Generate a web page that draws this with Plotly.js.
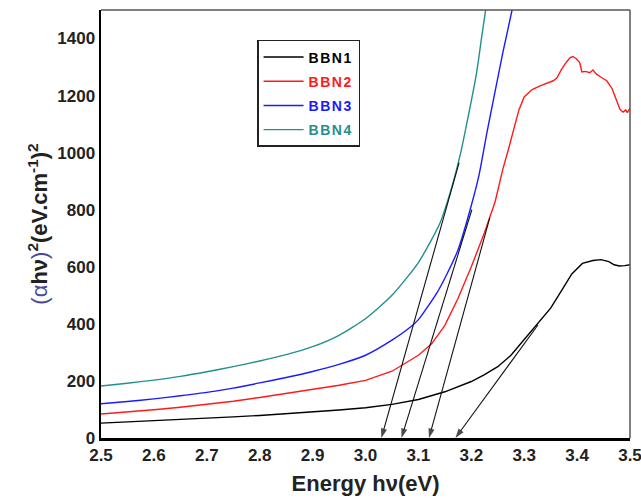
<!DOCTYPE html>
<html>
<head>
<meta charset="utf-8">
<script src="https://cdn.plot.ly/plotly-3.0.1.min.js"></script>
<style>
  html, body { margin: 0; padding: 0; background: #fff; }
  #chart { width: 641px; height: 500px; }
</style>
</head>
<body>
<div id="chart"></div>
<script>
// Tauc plot: (alpha*h*nu)^2 versus photon energy for four BBN films

const seriesNames = ['BBN1', 'BBN2', 'BBN3', 'BBN4'];
const seriesColors = ['#000000', '#ff1a1a', '#1a1aff', '#238f8f'];

// BBN1
const energyBBN1 = [2.50, 2.55, 2.60, 2.65, 2.70, 2.75, 2.80, 2.85, 2.90, 2.95, 3.00, 3.05, 3.10, 3.15, 3.20,
  3.225, 3.25, 3.275, 3.30, 3.325, 3.35, 3.37, 3.39, 3.41, 3.43, 3.445, 3.46, 3.47, 3.48, 3.49, 3.50];
const taucBBN1 = [52, 56, 60, 64, 68, 74, 79, 85, 91, 98, 106, 118, 135, 162, 198,
  222, 250, 290, 345, 400, 455, 515, 575, 612, 622, 625, 618, 607, 603, 604, 607];

// BBN2
const energyBBN2 = [2.50, 2.55, 2.60, 2.65, 2.70, 2.75, 2.80, 2.85, 2.90, 2.95, 3.00, 3.05, 3.10, 3.125, 3.15,
  3.175, 3.20, 3.225, 3.245, 3.26, 3.27, 3.28, 3.29, 3.30, 3.315, 3.33, 3.345, 3.355, 3.362, 3.37, 3.38,
  3.387, 3.392, 3.398, 3.405, 3.409, 3.416, 3.424, 3.43, 3.436, 3.443, 3.456, 3.466, 3.475, 3.481, 3.487,
  3.492, 3.495, 3.50];
const taucBBN2 = [84, 91, 99, 108, 118, 129, 142, 156, 170, 185, 202, 234, 290, 330, 395,
  490, 600, 720, 828, 945, 1010, 1080, 1150, 1195, 1221, 1234, 1245, 1252, 1262, 1290, 1318,
  1333, 1337, 1330, 1316, 1283, 1285, 1280, 1290, 1276, 1267, 1252, 1225, 1178, 1152, 1142,
  1150, 1140, 1156];

// BBN3
const energyBBN3 = [2.50, 2.55, 2.60, 2.65, 2.70, 2.75, 2.80, 2.85, 2.90, 2.95, 3.00, 3.05, 3.085, 3.10, 3.135,
  3.15, 3.175, 3.20, 3.215, 3.23, 3.245, 3.26, 3.27, 3.28];
const taucBBN3 = [120, 128, 137, 148, 160, 175, 193, 212, 233, 258, 290, 343, 389, 415, 509,
  560, 660, 815, 925, 1075, 1215, 1354, 1439, 1525];

// BBN4
const energyBBN4 = [2.50, 2.55, 2.60, 2.65, 2.70, 2.75, 2.80, 2.85, 2.90, 2.95, 3.00, 3.05, 3.10, 3.14, 3.16,
  3.18, 3.195, 3.21, 3.22, 3.235];
const taucBBN4 = [182, 192, 203, 216, 232, 250, 270, 292, 320, 360, 418, 500, 615, 750, 860,
  1000, 1135, 1280, 1410, 1600];

// Linear extrapolations of the absorption edges down to the energy axis
const tangentFromEnergy = [3.326, 3.235, 3.201, 3.177];
const tangentFromTauc = [396, 772, 800, 965];
const bandGap = [3.17, 3.12, 3.068, 3.03];

const xTicks = [2.5, 2.6, 2.7, 2.8, 2.9, 3.0, 3.1, 3.2, 3.3, 3.4, 3.5];
const yTicks = [0, 200, 400, 600, 800, 1000, 1200, 1400];

const energies = [energyBBN1, energyBBN2, energyBBN3, energyBBN4];
const taucs = [taucBBN1, taucBBN2, taucBBN3, taucBBN4];

const FONT = 'Arial, "Liberation Sans", sans-serif';

const traces = seriesNames.map((name, i) => ({
  type: 'scatter',
  mode: 'lines',
  x: energies[i],
  y: taucs[i],
  name: '<span style="color:' + seriesColors[i] + ';letter-spacing:1.5px">' + name + '</span>',
  legendgroup: name,
  line: { color: seriesColors[i], width: 1.4, shape: i === 1 || i === 0 ? 'linear' : 'spline', smoothing: 0.6 },
  hoverinfo: 'x+y'
}));

// extrapolation lines, each ending in an arrowhead on the energy axis
bandGap.forEach((eg, i) => {
  traces.push({
    type: 'scatter',
    mode: 'lines+markers',
    x: [tangentFromEnergy[i], eg],
    y: [tangentFromTauc[i], 0],
    showlegend: false,
    cliponaxis: false,
    line: { color: '#111', width: 1.1 },
    marker: { symbol: 'arrow', size: [0, 10], angleref: 'previous', color: '#000', line: { width: 0 } },
    hoverinfo: 'skip'
  });
});

const layout = {
  width: 641,
  height: 500,
  margin: { l: 101, r: 11, t: 10, b: 62 },
  paper_bgcolor: '#ffffff',
  plot_bgcolor: '#ffffff',
  font: { family: FONT, color: '#222' },
  showlegend: true,
  legend: {
    x: 0.295, y: 0.93, xanchor: 'left', yanchor: 'top',
    bgcolor: '#ffffff', bordercolor: '#222', borderwidth: 1.5,
    font: { family: FONT, size: 14, weight: 'bold' },
    tracegroupgap: 3,
    itemwidth: 40
  },
  xaxis: {
    range: [2.5, 3.5],
    tickvals: xTicks,
    tickformat: '.1f',
    ticks: '',
    ticklabeloverflow: 'allow',
    showgrid: false, zeroline: false,
    showline: true, linecolor: '#000', linewidth: 2.5,
    tickfont: { family: FONT, size: 17, weight: 'bold', color: '#222' },
    title: {
      text: 'Energy hν(eV)',
      font: { family: FONT, size: 22, weight: 'bold', color: '#222' },
      standoff: 12
    }
  },
  yaxis: {
    range: [0, 1500],
    tickvals: yTicks,
    ticks: '',
    showgrid: false, zeroline: false,
    showline: true, linecolor: '#000', linewidth: 2.5,
    tickfont: { family: FONT, size: 17, weight: 'bold', color: '#222' },
    title: {
      text: '<span style="color:#4a4a9a;font-weight:normal">(α</span>hν<span style="color:#4a4a9a;font-weight:normal">)</span><sup>2</sup>(eV.cm<sup>-1</sup>)<sup>2</sup>',
      font: { family: FONT, size: 22, weight: 'bold', color: '#222' },
      standoff: 4
    }
  },
  shapes: [
    { type: 'line', xref: 'paper', yref: 'paper', x0: 0, x1: 1, y0: 1, y1: 1, line: { color: '#555', width: 1.5 } },
    { type: 'line', xref: 'paper', yref: 'paper', x0: 1, x1: 1, y0: 0, y1: 1, line: { color: '#555', width: 1.5 } }
  ]
};

Plotly.newPlot('chart', traces, layout, { displayModeBar: false, staticPlot: true });
</script>
</body>
</html>
